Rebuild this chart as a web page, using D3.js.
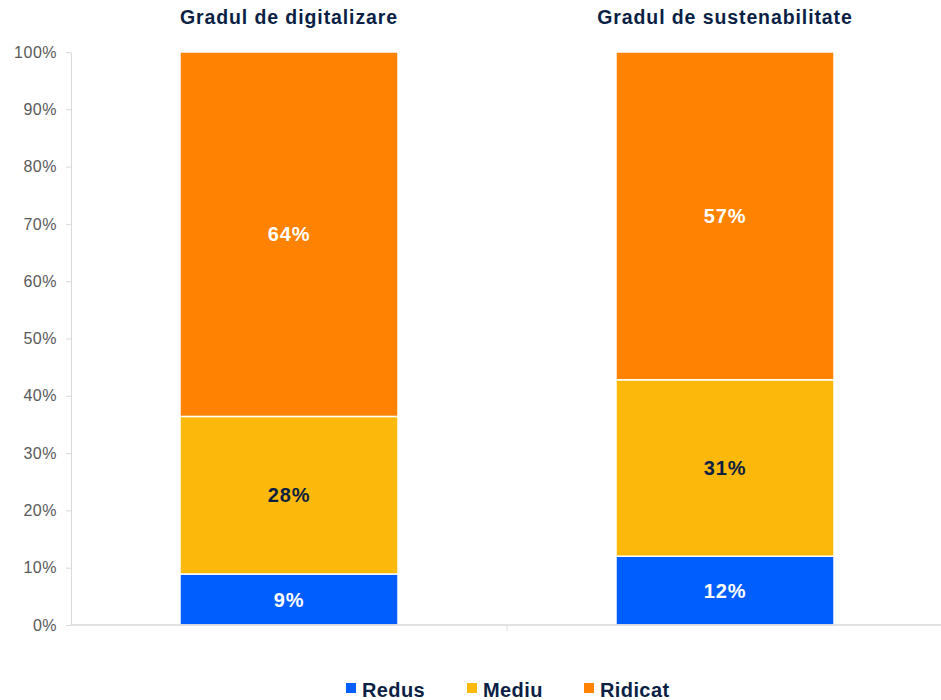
<!DOCTYPE html>
<html><head><meta charset="utf-8">
<script src="https://cdn.jsdelivr.net/npm/d3@7"></script>
<style>body{margin:0;background:#fff}svg{display:block}</style>
</head><body>
<script>
const categories = ["Gradul de digitalizare", "Gradul de sustenabilitate"];
const seriesNames = ["Redus", "Mediu", "Ridicat"];
const redus   = [8.9, 12.0];
const mediu   = [27.5, 30.8];
const ridicat = [63.6, 57.2];
const valueLabels = [["9%", "12%"], ["28%", "31%"], ["64%", "57%"]];
const yTicks = [0, 10, 20, 30, 40, 50, 60, 70, 80, 90, 100];
const colors = ["#005EFF", "#FDB90B", "#FF8200"];
const labelColors = ["#ffffff", "#0B1F3F", "#ffffff"];

const W = 941, H = 700;
const FONT = "Liberation Sans, Arial, sans-serif";
const NAVY = "#0B1F45";
const svg = d3.select("body").append("svg").attr("width", W).attr("height", H);
const x = d3.scaleBand().domain(categories).range([71, 943]).paddingInner(0.5).paddingOuter(0.25);
const y = d3.scaleLinear().domain([0, 100]).range([625, 52]);

const table = categories.map((c, i) => ({cat: c, Redus: redus[i], Mediu: mediu[i], Ridicat: ridicat[i]}));
const stack = d3.stack().keys(seriesNames)(table);

// y axis
const yAxis = svg.append("g").attr("transform", "translate(71,0)")
  .call(d3.axisLeft(y).tickValues(yTicks).tickFormat(d => d + "%").tickSize(5).tickSizeOuter(0));
yAxis.select(".domain").attr("stroke", "#d9d9d9");
yAxis.selectAll(".tick line").attr("stroke", "#d9d9d9");
yAxis.selectAll(".tick text").attr("fill", "#595959").attr("font-family", FONT)
  .attr("font-size", 16).attr("letter-spacing", 0.5).attr("x", -14);

// bars
stack.forEach((s, si) => {
  svg.append("g").selectAll("rect").data(s).join("rect")
    .attr("x", d => x(d.data.cat)).attr("width", x.bandwidth())
    .attr("y", d => y(d[1])).attr("height", d => y(d[0]) - y(d[1]))
    .attr("fill", colors[si]).attr("stroke", "#fff").attr("stroke-width", 1.5);
  svg.append("g").selectAll("text").data(s).join("text")
    .attr("x", d => x(d.data.cat) + x.bandwidth() / 2)
    .attr("y", d => (y(d[0]) + y(d[1])) / 2)
    .attr("dy", "0.36em").attr("text-anchor", "middle")
    .attr("font-family", FONT).attr("font-weight", "bold").attr("font-size", 20).attr("letter-spacing", 0.9)
    .attr("fill", labelColors[si])
    .text((d, i) => valueLabels[si][i]);
});

// x axis
const xAxis = svg.append("g").attr("transform", "translate(0,625)");
xAxis.append("line").attr("x1", 71).attr("x2", 941).attr("y1", 0).attr("y2", 0).attr("stroke", "#d9d9d9").attr("stroke-width", 1.5);
xAxis.append("line").attr("x1", x.range()[0] + x.step()).attr("x2", x.range()[0] + x.step())
  .attr("y1", 0).attr("y2", 6).attr("stroke", "#d9d9d9");

// titles
svg.append("g").selectAll("text").data(categories).join("text")
  .attr("x", d => x(d) + x.bandwidth() / 2).attr("y", 24).attr("text-anchor", "middle")
  .attr("font-family", FONT).attr("font-weight", "bold").attr("font-size", 19.5).attr("letter-spacing", 0.9)
  .attr("fill", NAVY).text(d => d);

// legend
const legendX = [346, 467, 584];
const lg = svg.append("g");
seriesNames.forEach((n, i) => {
  lg.append("rect").attr("x", legendX[i]).attr("y", 683).attr("width", 10).attr("height", 10).attr("fill", colors[i]);
  lg.append("text").attr("x", legendX[i] + 16).attr("y", 697)
    .attr("font-family", FONT).attr("font-weight", "bold").attr("font-size", 20).attr("letter-spacing", 0.4)
    .attr("fill", NAVY).text(n);
});
</script>
</body></html>
